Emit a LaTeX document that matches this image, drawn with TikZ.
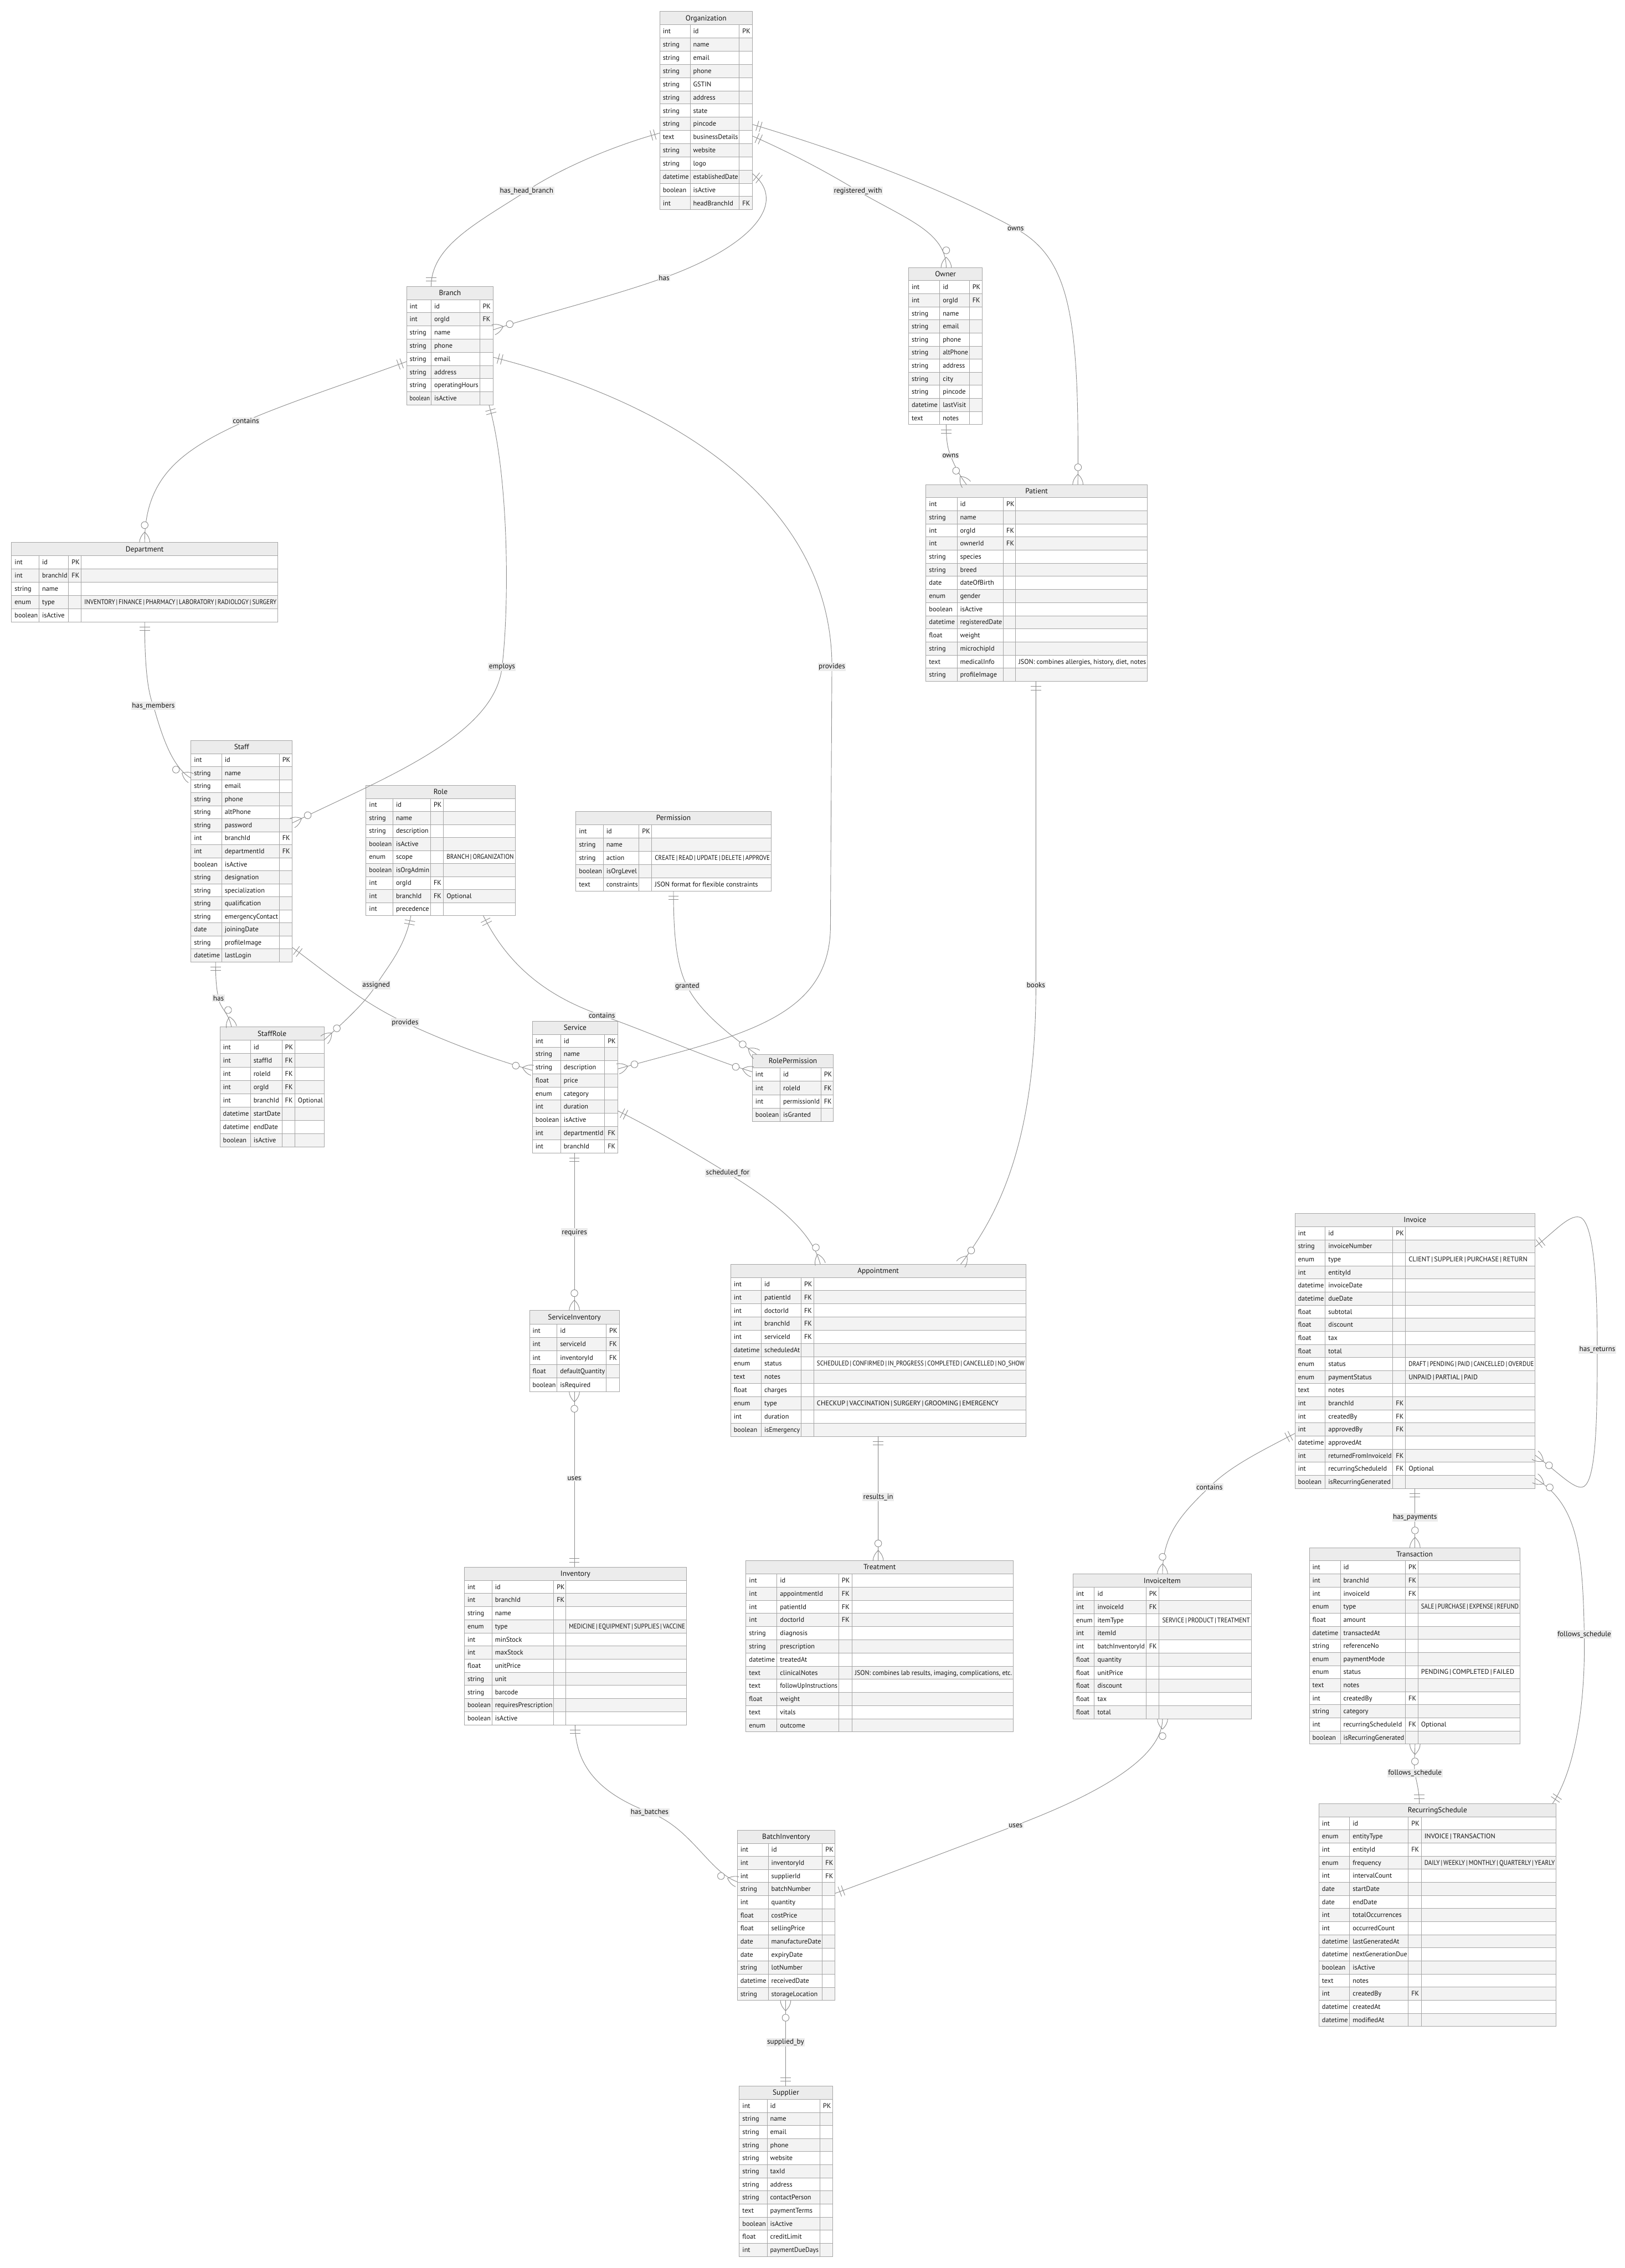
\documentclass[tikz,border=0pt]{standalone}
\usepackage{fontspec}
\usepackage{graphicx}
\usetikzlibrary{arrows.meta}
\newfontfamily\erfont{PT Sans}
\definecolor{hdrfill}{HTML}{ECECEC}
\definecolor{rowfill}{HTML}{F3F3F3}
\definecolor{bordercol}{HTML}{A5A5A5}
\definecolor{linecol}{HTML}{8C8C8C}
\definecolor{lblfill}{HTML}{ECECEC}
\definecolor{txtcol}{HTML}{141414}

\pgfdeclarearrow{
  name=ERone,
  setup code={%
    \pgfarrowssettipend{0pt}%
    \pgfarrowssetlineend{0pt}%
    \pgfarrowssetbackend{-9pt}%
    \pgfarrowshullpoint{0pt}{5.2pt}%
    \pgfarrowshullpoint{0pt}{-5.2pt}%
    \pgfarrowshullpoint{-9pt}{5.2pt}%
    \pgfarrowshullpoint{-9pt}{-5.2pt}%
  },
  drawing code={%
    \pgfsetdash{}{0pt}%
    \pgfpathmoveto{\pgfqpoint{-5.1pt}{-5.1pt}}%
    \pgfpathlineto{\pgfqpoint{-5.1pt}{5.1pt}}%
    \pgfpathmoveto{\pgfqpoint{-8.5pt}{-5.1pt}}%
    \pgfpathlineto{\pgfqpoint{-8.5pt}{5.1pt}}%
    \pgfusepathqstroke
  }
}
\pgfdeclarearrow{
  name=ERmany,
  setup code={%
    \pgfarrowssettipend{0pt}%
    \pgfarrowssetlineend{0pt}%
    \pgfarrowssetbackend{-21pt}%
    \pgfarrowshullpoint{0pt}{5.2pt}%
    \pgfarrowshullpoint{0pt}{-5.2pt}%
    \pgfarrowshullpoint{-21pt}{3.5pt}%
    \pgfarrowshullpoint{-21pt}{-3.5pt}%
  },
  drawing code={%
    \pgfsetdash{}{0pt}%
    \pgfpathmoveto{\pgfqpoint{-10.2pt}{0pt}}%
    \pgfpathquadraticcurveto{\pgfqpoint{-5.1pt}{5.1pt}}{\pgfqpoint{0pt}{5.1pt}}%
    \pgfpathmoveto{\pgfqpoint{-10.2pt}{0pt}}%
    \pgfpathquadraticcurveto{\pgfqpoint{-5.1pt}{-5.1pt}}{\pgfqpoint{0pt}{-5.1pt}}%
    \pgfusepathqstroke
    \pgfsetfillcolor{white}%
    \pgfpathcircle{\pgfqpoint{-17pt}{0pt}}{3.4pt}%
    \pgfusepathqfillstroke
  }
}

\newcommand\ERbw{0.5pt}
\newcommand\ERbar{\kern0.18em|\kern0.18em}
\def\ERcolA{0}\def\ERcolB{0}\def\ERcolC{0}
\newcommand\ERcols[3]{\def\ERcolA{#1}\def\ERcolB{#2}\def\ERcolC{#3}}

\newsavebox\ERfitbox
\newcommand\ERfit[2]{%
  \sbox\ERfitbox{#2}%
  \pgfmathsetmacro\ERavail{(#1)*1.42264}%
  \ifdim\wd\ERfitbox>\ERavail pt\relax
    \edef\ERnat{\the\wd\ERfitbox}%
    \pgfmathsetmacro\ERscl{\ERavail/\ERnat}%
    \scalebox{\ERscl}[1]{\usebox\ERfitbox}%
  \else
    \usebox\ERfitbox
  \fi}

% #1 name, #2 left, #3 top, #4 right, #5 bottom, #6 rows, #7 title, #8 row list
\newcommand\ERtable[8]{%
  \pgfmathsetmacro\ERh{(#5-#3)/(#6+1)}%
  \pgfmathsetmacro\ERwA{\ERcolA-#2-3}%
  \pgfmathsetmacro\ERwB{\ERcolB-\ERcolA-3}%
  \ifdim\ERcolC pt=0pt\relax
    \pgfmathsetmacro\ERwC{#4-\ERcolB-3}%
  \else
    \pgfmathsetmacro\ERwC{\ERcolC-\ERcolB-3}%
    \pgfmathsetmacro\ERwD{#4-\ERcolC-3}%
  \fi
  \filldraw[fill=hdrfill,draw=bordercol,line width=\ERbw] (#2,#3) rectangle (#4,#3+\ERh);
  \node[ertitle] at ({(#2+#4)/2},{#3+0.5*\ERh+1.7}) {#7};
  \foreach \ERt/\ERn/\ERk/\ERc [count=\i] in {#8} {%
    \pgfmathsetmacro\yt{#3+\i*\ERh}%
    \pgfmathsetmacro\yb{#3+(\i+1)*\ERh}%
    \pgfmathsetmacro\yc{#3+(\i+0.5)*\ERh+1.6}%
    \ifodd\i\relax\def\rowc{white}\else\def\rowc{rowfill}\fi
    \filldraw[fill=\rowc,draw=bordercol,line width=\ERbw] (#2,\yt) rectangle (#4,\yb);
    \draw[bordercol,line width=\ERbw] (\ERcolA,\yt) -- (\ERcolA,\yb) (\ERcolB,\yt) -- (\ERcolB,\yb);
    \node[ercell] at (#2+2,\yc) {\ERfit{\ERwA}{\ERt}};
    \node[ercell] at (\ERcolA+2,\yc) {\ERfit{\ERwB}{\ERn}};
    \node[ercell] at (\ERcolB+2,\yc) {\ERfit{\ERwC}{\ERk}};
    \ifdim\ERcolC pt=0pt\relax\else
      \draw[bordercol,line width=\ERbw] (\ERcolC,\yt) -- (\ERcolC,\yb);
      \node[ercell] at (\ERcolC+2,\yc) {\ERfit{\ERwD}{\ERc}};
    \fi
  }%
  \pgfmathsetmacro\ERW{(#4-#2)*0.5}%
  \pgfmathsetmacro\ERH{(#5-#3)*0.5}%
  \node[name=#1,anchor=north west,inner sep=0pt,outer sep=0pt,minimum width=\ERW mm,minimum height=\ERH mm,draw=bordercol,line width=\ERbw] at (#2,#3) {};
}

\tikzset{
  ercell/.style={anchor=base west,inner sep=0pt,font=\erfont\fontsize{6.7}{7.7}\selectfont,text=txtcol},
  ertitle/.style={anchor=base,inner sep=0pt,font=\erfont\fontsize{7.3}{8.3}\selectfont,text=txtcol},
  lbl/.style={fill=lblfill,inner sep=0.8pt,font=\erfont\fontsize{7.2}{8.2}\selectfont,text=txtcol},
  conn/.style={draw=linecol,line width=0.5pt}
}

\begin{document}
\begin{tikzpicture}[x=0.5mm,y=-0.5mm]
\fill[white] (0,0) rectangle (1123,1568);
\useasboundingbox (0,0) rectangle (1123,1568);

% ---------------- tables ----------------
\ERcols{477}{511}{0}
\ERtable{org}{456}{8}{520}{145}{14}{Organization}{
 int/id/PK/{}, string/name/{}/{}, string/email/{}/{}, string/phone/{}/{}, string/GSTIN/{}/{},
 string/address/{}/{}, string/state/{}/{}, string/pincode/{}/{}, text/businessDetails/{}/{},
 string/website/{}/{}, string/logo/{}/{}, datetime/establishedDate/{}/{}, boolean/isActive/{}/{},
 int/headBranchId/FK/{}}

\ERcols{298}{331.5}{0}
\ERtable{branch}{281}{198}{341}{280}{8}{Branch}{
 int/id/PK/{}, int/orgId/FK/{}, string/name/{}/{}, string/phone/{}/{}, string/email/{}/{},
 string/address/{}/{}, string/operatingHours/{}/{}, boolean/isActive/{}/{}}

\ERcols{649.5}{670}{0}
\ERtable{owner}{628}{185}{679}{293.5}{11}{Owner}{
 int/id/PK/{}, int/orgId/FK/{}, string/name/{}/{}, string/email/{}/{}, string/phone/{}/{},
 string/altPhone/{}/{}, string/address/{}/{}, string/city/{}/{}, string/pincode/{}/{},
 datetime/lastVisit/{}/{}, text/notes/{}/{}}

\ERcols{661.5}{693.5}{702}
\ERtable{patient}{640}{335}{793}{471}{14}{Patient}{
 int/id/PK/{}, string/name/{}/{}, int/orgId/FK/{}, int/ownerId/FK/{}, string/species/{}/{},
 string/breed/{}/{}, date/dateOfBirth/{}/{}, enum/gender/{}/{}, boolean/isActive/{}/{},
 datetime/registeredDate/{}/{}, float/weight/{}/{}, string/microchipId/{}/{},
 text/medicalInfo/{}/{JSON: combines allergies, history, diet, notes}, string/profileImage/{}/{}}

\ERcols{27}{47.4}{56.2}
\ERtable{dept}{8}{375}{192}{430}{5}{Department}{
 int/id/PK/{}, int/branchId/FK/{}, string/name/{}/{},
 enum/type/{}/INVENTORY\ERbar FINANCE\ERbar PHARMACY\ERbar LABORATORY\ERbar RADIOLOGY\ERbar SURGERY, boolean/isActive/{}/{}}

\ERcols{153.2}{193}{0}
\ERtable{staff}{132}{512}{202}{665}{16}{Staff}{
 int/id/PK/{}, string/name/{}/{}, string/email/{}/{}, string/phone/{}/{}, string/altPhone/{}/{},
 string/password/{}/{}, int/branchId/FK/{}, int/departmentId/FK/{}, boolean/isActive/{}/{},
 string/designation/{}/{}, string/specialization/{}/{}, string/qualification/{}/{},
 string/emergencyContact/{}/{}, date/joiningDate/{}/{}, string/profileImage/{}/{},
 datetime/lastLogin/{}/{}}

\ERcols{271.6}{297.6}{306.5}
\ERtable{role}{253}{543}{356}{633}{9}{Role}{
 int/id/PK/{}, string/name/{}/{}, string/description/{}/{}, boolean/isActive/{}/{},
 enum/scope/{}/BRANCH\ERbar ORGANIZATION, boolean/isOrgAdmin/{}/{}, int/orgId/FK/{},
 int/branchId/FK/Optional, int/precedence/{}/{}}

\ERcols{417}{441.7}{450.5}
\ERtable{perm}{398}{561}{533}{616}{5}{Permission}{
 int/id/PK/{}, string/name/{}/{}, string/action/{}/CREATE\ERbar READ\ERbar UPDATE\ERbar DELETE\ERbar APPROVE,
 boolean/isOrgLevel/{}/{}, text/constraints/{}/JSON format for flexible constraints}

\ERcols{173.1}{194.9}{203.8}
\ERtable{staffrole}{152}{710}{224}{793}{8}{StaffRole}{
 int/id/PK/{}, int/staffId/FK/{}, int/roleId/FK/{}, int/orgId/FK/{}, int/branchId/FK/Optional,
 datetime/startDate/{}/{}, datetime/endDate/{}/{}, boolean/isActive/{}/{}}

\ERcols{387.5}{417.9}{0}
\ERtable{service}{368}{706}{427}{797}{9}{Service}{
 int/id/PK/{}, string/name/{}/{}, string/description/{}/{}, float/price/{}/{}, enum/category/{}/{},
 int/duration/{}/{}, boolean/isActive/{}/{}, int/departmentId/FK/{}, int/branchId/FK/{}}

\ERcols{539.2}{567.4}{0}
\ERtable{roleperm}{520}{729}{576}{775.5}{4}{RolePermission}{
 int/id/PK/{}, int/roleId/FK/{}, int/permissionId/FK/{}, boolean/isGranted/{}/{}}

\ERcols{526.2}{553.7}{562.5}
\ERtable{appt}{505}{874}{709}{993}{12}{Appointment}{
 int/id/PK/{}, int/patientId/FK/{}, int/doctorId/FK/{}, int/branchId/FK/{}, int/serviceId/FK/{},
 datetime/scheduledAt/{}/{},
 enum/status/{}/SCHEDULED\ERbar CONFIRMED\ERbar IN\_PROGRESS\ERbar COMPLETED\ERbar CANCELLED\ERbar NO\_SHOW,
 text/notes/{}/{}, float/charges/{}/{},
 enum/type/{}/CHECKUP\ERbar VACCINATION\ERbar SURGERY\ERbar GROOMING\ERbar EMERGENCY,
 int/duration/{}/{}, boolean/isEmergency/{}/{}}

\ERcols{385}{419}{0}
\ERtable{servinv}{366}{906}{428}{962}{5}{ServiceInventory}{
 int/id/PK/{}, int/serviceId/FK/{}, int/inventoryId/FK/{}, float/defaultQuantity/{}/{},
 boolean/isRequired/{}/{}}

\ERcols{916}{962.7}{971.5}
\ERtable{invoice}{895}{839}{1061}{1029}{20}{Invoice}{
 int/id/PK/{}, string/invoiceNumber/{}/{}, enum/type/{}/CLIENT\ERbar SUPPLIER\ERbar PURCHASE\ERbar RETURN,
 int/entityId/{}/{}, datetime/invoiceDate/{}/{}, datetime/dueDate/{}/{}, float/subtotal/{}/{},
 float/discount/{}/{}, float/tax/{}/{}, float/total/{}/{},
 enum/status/{}/DRAFT\ERbar PENDING\ERbar PAID\ERbar CANCELLED\ERbar OVERDUE, enum/paymentStatus/{}/UNPAID\ERbar PARTIAL\ERbar PAID,
 text/notes/{}/{}, int/branchId/FK/{}, int/createdBy/FK/{}, int/approvedBy/FK/{},
 datetime/approvedAt/{}/{}, int/returnedFromInvoiceId/FK/{}, int/recurringScheduleId/FK/Optional,
 boolean/isRecurringGenerated/{}/{}}

\ERcols{340}{382.7}{391.1}
\ERtable{inventory}{321}{1083.5}{474.4}{1192.5}{11}{Inventory}{
 int/id/PK/{}, int/branchId/FK/{}, string/name/{}/{}, enum/type/{}/MEDICINE\ERbar EQUIPMENT\ERbar SUPPLIES\ERbar VACCINE,
 int/minStock/{}/{}, int/maxStock/{}/{}, float/unitPrice/{}/{}, string/unit/{}/{},
 string/barcode/{}/{}, boolean/requiresPrescription/{}/{}, boolean/isActive/{}/{}}

\ERcols{537}{579.7}{588.8}
\ERtable{treatment}{515.6}{1079}{700.4}{1197.4}{12}{Treatment}{
 int/id/PK/{}, int/appointmentId/FK/{}, int/patientId/FK/{}, int/doctorId/FK/{},
 string/diagnosis/{}/{}, string/prescription/{}/{}, datetime/treatedAt/{}/{},
 text/clinicalNotes/{}/{JSON: combines lab results, imaging, complications, etc.},
 text/followUpInstructions/{}/{}, float/weight/{}/{}, text/vitals/{}/{}, enum/outcome/{}/{}}

\ERcols{756.4}{792.1}{801.2}
\ERtable{invitem}{741.7}{1088.3}{864.8}{1188.3}{10}{InvoiceItem}{
 int/id/PK/{}, int/invoiceId/FK/{}, enum/itemType/{}/SERVICE\ERbar PRODUCT\ERbar TREATMENT, int/itemId/{}/{},
 int/batchInventoryId/FK/{}, float/quantity/{}/{}, float/unitPrice/{}/{}, float/discount/{}/{},
 float/tax/{}/{}, float/total/{}/{}}

\ERcols{926.4}{971.4}{980.1}
\ERtable{trans}{905}{1070}{1050.5}{1205.8}{14}{Transaction}{
 int/id/PK/{}, int/branchId/FK/{}, int/invoiceId/FK/{}, enum/type/{}/SALE\ERbar PURCHASE\ERbar EXPENSE\ERbar REFUND,
 float/amount/{}/{}, datetime/transactedAt/{}/{}, string/referenceNo/{}/{}, enum/paymentMode/{}/{},
 enum/status/{}/PENDING\ERbar COMPLETED\ERbar FAILED, text/notes/{}/{}, int/createdBy/FK/{},
 string/category/{}/{}, int/recurringScheduleId/FK/Optional, boolean/isRecurringGenerated/{}/{}}

\ERcols{932.8}{973.4}{982.4}
\ERtable{recur}{911.6}{1247}{1075.5}{1401}{16}{RecurringSchedule}{
 int/id/PK/{}, enum/entityType/{}/INVOICE\ERbar TRANSACTION, int/entityId/FK/{},
 enum/frequency/{}/DAILY\ERbar WEEKLY\ERbar MONTHLY\ERbar QUARTERLY\ERbar YEARLY, int/intervalCount/{}/{},
 date/startDate/{}/{}, date/endDate/{}/{}, int/totalOccurrences/{}/{}, int/occurredCount/{}/{},
 datetime/lastGeneratedAt/{}/{}, datetime/nextGenerationDue/{}/{}, boolean/isActive/{}/{},
 text/notes/{}/{}, int/createdBy/FK/{}, datetime/createdAt/{}/{}, datetime/modifiedAt/{}/{}}

\ERcols{531}{568.4}{0}
\ERtable{batch}{509.6}{1265.3}{577.1}{1383}{12}{BatchInventory}{
 int/id/PK/{}, int/inventoryId/FK/{}, int/supplierId/FK/{}, string/batchNumber/{}/{},
 int/quantity/{}/{}, float/costPrice/{}/{}, float/sellingPrice/{}/{}, date/manufactureDate/{}/{},
 date/expiryDate/{}/{}, string/lotNumber/{}/{}, datetime/receivedDate/{}/{},
 string/storageLocation/{}/{}}

\ERcols{530.2}{566.7}{0}
\ERtable{supplier}{511}{1442.3}{575.4}{1560}{12}{Supplier}{
 int/id/PK/{}, string/name/{}/{}, string/email/{}/{}, string/phone/{}/{}, string/website/{}/{},
 string/taxId/{}/{}, string/address/{}/{}, string/contactPerson/{}/{}, text/paymentTerms/{}/{},
 boolean/isActive/{}/{}, float/creditLimit/{}/{}, int/paymentDueDays/{}/{}}

% ---------------- relationships ----------------
\draw[conn,ERone-ERone] ([shift={(0,84)}]org.north west) .. controls (420,102) and (385,118) .. (364,132) node[lbl]{has\_head\_branch} .. controls (330,154) and (298,170) .. ([shift={(17,0)}]branch.north west);

\draw[conn,ERone-ERmany] ([shift={(0,112)}]org.north east) .. controls (545,140) and (520,170) .. (459,192) node[lbl]{has} .. controls (420,206) and (370,218) .. ([shift={(0,30)}]branch.north east);

\draw[conn,ERone-ERmany] ([shift={(0,86)}]org.north east) .. controls (545,105) and (570,118) .. (593,132) node[lbl]{registered\_with} .. controls (625,151) and (654,160) .. ([shift={(26,0)}]owner.north west);

\draw[conn,ERone-ERmany] ([shift={(0,78)}]org.north east) .. controls (600,110) and (660,135) .. (702,158) node[lbl]{owns} .. controls (740,179) and (746,220) .. ([shift={(105,0)}]patient.north west);

\draw[conn,ERone-ERmany] ([shift={(26,0)}]owner.south west) .. controls (654,305) and (655,310) .. (657,315) node[lbl]{owns} .. controls (659,320) and (662,327) .. ([shift={(28,0)}]patient.north west);

\draw[conn,ERone-ERmany] ([shift={(0,52)}]branch.north west) .. controls (240,265) and (200,278) .. (170,291) node[lbl]{contains} .. controls (125,311) and (100,330) .. ([shift={(92,0)}]dept.north west);

\draw[conn,ERone-ERmany] ([shift={(57,0)}]branch.south west) .. controls (352,330) and (352,420) .. (347,461) node[lbl]{employs} .. controls (342,510) and (260,540) .. ([shift={(0,57)}]staff.north east);

\draw[conn,ERone-ERmany] ([shift={(0,49)}]branch.north east) .. controls (470,280) and (575,350) .. (575,461) node[lbl]{provides} -- (574,640) .. controls (574,705) and (510,716) .. ([shift={(0,33)}]service.north east);

\draw[conn,ERone-ERmany] ([shift={(92,0)}]dept.south west) .. controls (100,460) and (102,478) .. (106,488) node[lbl]{has\_members} .. controls (111,505) and (118,530) .. ([shift={(0,26)}]staff.north west);

\draw[conn,ERone-ERmany] ([shift={(17,0)}]staff.south west) .. controls (149,680) and (150,685) .. (151,690) node[lbl]{has} .. controls (152,697) and (158,700) .. ([shift={(8,0)}]staffrole.north west);

\draw[conn,ERone-ERmany] ([shift={(31,0)}]role.south west) .. controls (280,655) and (268,668) .. (260,681) node[lbl]{assigned} .. controls (252,694) and (236,708) .. ([shift={(0,9)}]staffrole.north east);

\draw[conn,ERone-ERmany] ([shift={(0,143)}]staff.north east) .. controls (225,672) and (250,693) .. (280,707) node[lbl]{provides} .. controls (310,721) and (340,732) .. ([shift={(0,34)}]service.north west);

\draw[conn,ERone-ERmany] ([shift={(81,0)}]role.south west) .. controls (350,665) and (375,688) .. (416,702) node[lbl]{contains} .. controls (450,714) and (490,732) .. ([shift={(0,12)}]roleperm.north west);

\draw[conn,ERone-ERmany] ([shift={(67.5,0)}]perm.south west) .. controls (465.5,650) and (468,668) .. (475,682) node[lbl]{granted} .. controls (484,700) and (505,716) .. ([shift={(3,0)}]roleperm.north west);

\draw[conn,ERone-ERmany] ([shift={(29,0)}]service.south west) -- (397,852) node[lbl]{requires} -- ([shift={(31,0)}]servinv.north west);

\draw[conn,ERone-ERmany] ([shift={(0,62)}]service.north east) .. controls (455,782) and (480,797) .. (503,811) node[lbl]{scheduled\_for} .. controls (530,828) and (560,848) .. ([shift={(62,0)}]appt.north west);

\draw[conn,ERone-ERmany] ([shift={(76,0)}]patient.south west) -- (716,681) node[lbl]{books} .. controls (716,790) and (690,840) .. ([shift={(159,0)}]appt.north west);

\draw[conn,ERone-ERmany] ([shift={(76,0)}]inventory.north west) -- (397,1022) node[lbl]{uses} -- ([shift={(31,0)}]servinv.south west);

\draw[conn,ERone-ERmany] ([shift={(102,0)}]appt.south west) -- (607,1035) node[lbl]{results\_in} -- ([shift={(91.4,0)}]treatment.north west);

\draw[conn,ERone-ERmany] ([shift={(0,152)}]invoice.north west) .. controls (870,1004) and (850,1014) .. (836,1028) node[lbl]{contains} .. controls (815,1048) and (803.5,1062) .. ([shift={(61.8,0)}]invitem.north west);

\draw[conn,ERone-ERmany] ([shift={(83,0)}]invoice.south west) -- (978,1049) node[lbl]{has\_payments} -- ([shift={(73,0)}]trans.north west);

\draw[conn,ERone-ERmany] ([shift={(0,23)}]invoice.north east) .. controls (1075,851) and (1086,838) .. (1093,842) .. controls (1102,848) and (1104,890) .. (1104,933) node[lbl]{has\_returns} .. controls (1104,985) and (1103,1025) .. (1094,1028) .. controls (1088,1030) and (1076,1017) .. ([shift={(0,167)}]invoice.north east);

\draw[conn,ERone-ERmany] ([shift={(161.4,0)}]recur.north west) .. controls (1088,1225) and (1096,1180) .. (1095,1130) node[lbl]{follows\_schedule} .. controls (1094,1070) and (1090,1040) .. ([shift={(0,183)}]invoice.north east);

\draw[conn,ERone-ERmany] ([shift={(69.4,0)}]recur.north west) .. controls (981,1238) and (979,1232) .. (978,1226) node[lbl]{follows\_schedule} .. controls (977,1219) and (978,1214) .. ([shift={(73,0)}]trans.south west);

\draw[conn,ERone-ERmany] ([shift={(76.5,0)}]inventory.south west) .. controls (397.5,1225) and (420,1242) .. (449,1253) node[lbl]{has\_batches} .. controls (478,1264) and (490,1294) .. ([shift={(0,35.7)}]batch.north west);

\draw[conn,ERone-ERmany] ([shift={(0,43.7)}]batch.north east) .. controls (610,1297) and (660,1278) .. (702,1262) node[lbl]{uses} .. controls (760,1240) and (803.5,1215) .. ([shift={(61.8,0)}]invitem.south west);

\draw[conn,ERone-ERmany] ([shift={(32,0)}]supplier.north west) -- (543,1412) node[lbl]{supplied\_by} -- ([shift={(33.4,0)}]batch.south west);

\end{tikzpicture}
\end{document}
